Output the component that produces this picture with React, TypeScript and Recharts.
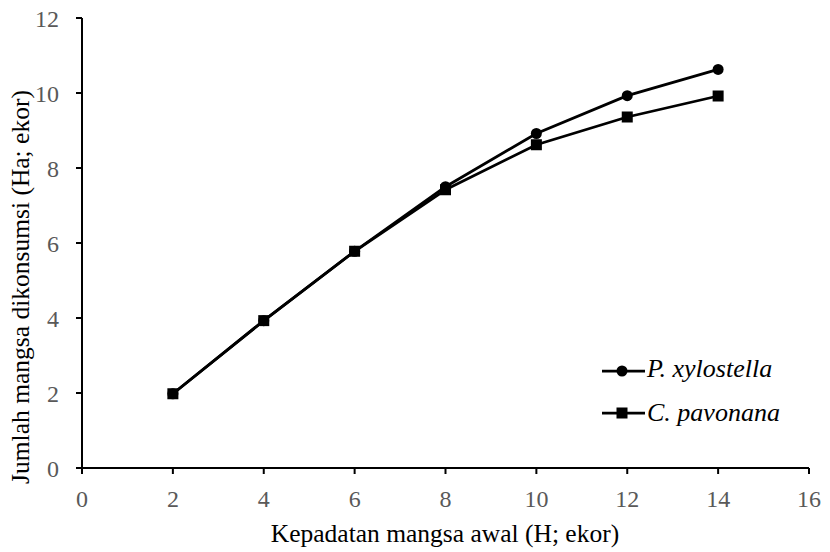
import { Line, LineChart, XAxis, YAxis } from "recharts";

const densities = [2, 4, 6, 8, 10, 12, 14];
const xylostella = [1.98, 3.93, 5.78, 7.5, 8.92, 9.93, 10.63];
const pavonana = [1.98, 3.93, 5.78, 7.42, 8.62, 9.36, 9.92];
const xTicks = [0, 2, 4, 6, 8, 10, 12, 14, 16];
const yTicks = [0, 2, 4, 6, 8, 10, 12];

const rows = densities.map((h, i) => ({ h, xylostella: xylostella[i], pavonana: pavonana[i] }));

const FONT = "Times New Roman, Liberation Serif, serif";

function SquareDot(props: any) {
  const { cx, cy } = props;
  if (cx == null || cy == null) return null;
  return <rect x={cx - 5.5} y={cy - 5.5} width={11} height={11} fill="#000" />;
}

// legend drawn as an overlay, bottom right inside the plot
function LegendBox() {
  return (
    <svg width={830} height={552} style={{ position: "absolute", left: 0, top: 0, pointerEvents: "none" }}>
      <g fontFamily={FONT} fontSize={26} fontStyle="italic" fill="#000">
        <line x1={602} y1={371} x2={645} y2={371} stroke="#000" strokeWidth={2.75} />
        <circle cx={622} cy={371} r={5.5} fill="#000" />
        <text x={647} y={377}>P. xylostella</text>
        <line x1={602} y1={413} x2={645} y2={413} stroke="#000" strokeWidth={2.75} />
        <rect x={616.5} y={407.5} width={11} height={11} fill="#000" />
        <text x={647} y={421}>C. pavonana</text>
      </g>
    </svg>
  );
}

export default function App() {
  return (
    <div style={{ position: "absolute", left: 0, top: 0, width: 830, height: 552, background: "#fff" }}>
      <LineChart width={830} height={552} data={rows} margin={{ top: 18, right: 21, bottom: 0, left: 0 }}>
        <XAxis
          dataKey="h"
          type="number"
          domain={[0, 16]}
          ticks={xTicks}
          height={84}
          stroke="#000"
          strokeWidth={2}
          tickSize={6}
          tick={{ fill: "#595959", fontSize: 24, fontFamily: FONT, dy: 14 }}
          label={{
            content: () => (
              <text x={445} y={542} textAnchor="middle" fontFamily={FONT} fontSize={25.5} fill="#000">
                Kepadatan mangsa awal (H; ekor)
              </text>
            ),
          }}
        />
        <YAxis
          type="number"
          domain={[0, 12]}
          ticks={yTicks}
          width={82}
          stroke="#000"
          strokeWidth={2}
          tickSize={6}
          tick={{ fill: "#595959", fontSize: 24, fontFamily: FONT, dx: -15 }}
          label={{
            content: () => (
              <text x={0} y={0} transform="translate(29, 287) rotate(-90)" textAnchor="middle" fontFamily={FONT} fontSize={25.5} fill="#000">
                Jumlah mangsa dikonsumsi (Ha; ekor)
              </text>
            ),
          }}
        />
        <Line
          dataKey="xylostella"
          name="P. xylostella"
          stroke="#000"
          strokeWidth={2.75}
          dot={{ r: 5.5, fill: "#000", stroke: "#000", strokeWidth: 0 }}
          isAnimationActive={false}
        />
        <Line
          dataKey="pavonana"
          name="C. pavonana"
          stroke="#000"
          strokeWidth={2.75}
          dot={<SquareDot />}
          isAnimationActive={false}
        />
      </LineChart>
      <LegendBox />
    </div>
  );
}
